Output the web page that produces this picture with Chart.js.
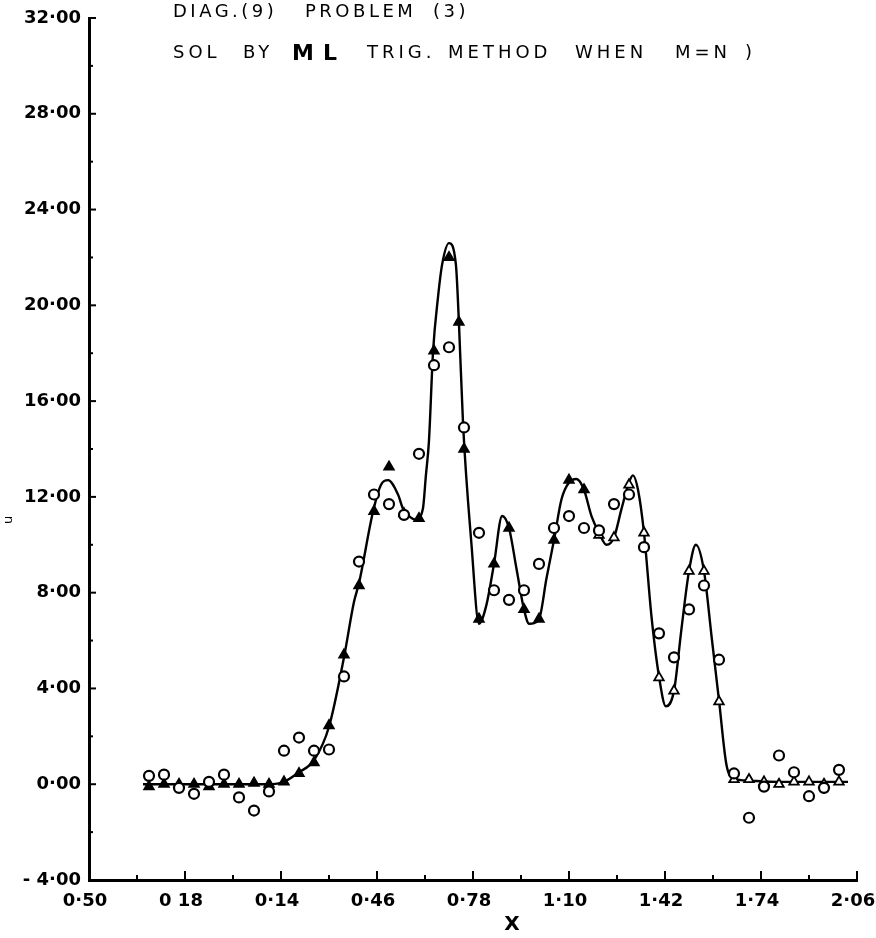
<!DOCTYPE html>
<html>
<head>
<meta charset="utf-8">
<script src="https://cdn.jsdelivr.net/npm/chart.js@4.4.0/dist/chart.umd.min.js"></script>
<style>
  body { margin: 0; background: #fff; }
  canvas { display: block; }
</style>
</head>
<body>
<canvas id="diagChart" width="876" height="938"></canvas>
<script>
const diagChart = document.getElementById('diagChart').getContext('2d');

// axis labels as printed on the plot
const xTickLabels = ['0·50', '0 18', '0·14', '0·46', '0·78', '1·10', '1·42', '1·74', '2·06'];
const yTickLabels = ['- 4·00', '0·00', '4·00', '8·00', '12·00', '16·00', '20·00', '24·00', '28·00', '32·00'];

// sample points
const xPoints = [-0.30, -0.25, -0.20, -0.15, -0.10, -0.05, 0.00, 0.05, 0.10, 0.15,
    0.20, 0.25, 0.30, 0.35, 0.40, 0.45, 0.50, 0.55, 0.60, 0.65,
    0.70, 0.75, 0.80, 0.85, 0.90, 0.95, 1.00, 1.05, 1.10, 1.15,
    1.20, 1.25, 1.30, 1.35, 1.40, 1.45, 1.50, 1.55, 1.60, 1.65,
    1.70, 1.75, 1.80, 1.85, 1.90, 1.95, 2.00];

// triangles (trig. method)
const triValues = [-0.1, 0.0, 0.0, 0.0, -0.1, 0.0, 0.0, 0.05, 0.0, 0.1,
    0.45, 0.9, 2.45, 5.4, 8.3, 11.4, 13.25, 11.3, 11.1, 18.1,
    22.0, 14.0, 6.9, 9.2, 10.7, 7.3, 6.9, 10.2, 12.7, 12.3,
    10.4, 10.3, 12.5, 10.5, 4.45, 3.9, 8.9, 8.9, 3.45, 0.2,
    0.2, 0.1, 0.0, 0.1, 0.1, 0.0, 0.1];
const triExtraX = [0.733];
const triExtraY = [19.3];

// circles
const circValues = [0.35, 0.4, -0.15, -0.4, 0.1, 0.4, -0.55, -1.1, -0.3, 1.4,
    1.95, 1.4, 1.45, 4.5, 9.3, 12.1, 11.7, 11.25, 13.8, 17.5,
    18.25, 14.9, 10.5, 8.1, 7.7, 8.1, 9.2, 10.7, 11.2, 10.7,
    10.6, 11.7, 12.1, 9.9, 6.3, 5.3, 7.3, 8.3, 5.2, 0.45,
    -1.4, -0.1, 1.2, 0.5, -0.5, -0.15, 0.6];

// solid curve
const curveX = [-0.32, -0.20, 0.00, 0.10, 0.15, 0.20, 0.25, 0.30, 0.35, 0.383,
    0.40, 0.447, 0.473, 0.497, 0.53, 0.547, 0.567, 0.59, 0.613, 0.623,
    0.633, 0.647, 0.663, 0.677, 0.70, 0.723, 0.733, 0.747, 0.775, 0.80,
    0.825, 0.85, 0.877, 0.90, 0.925, 0.95, 0.967, 1.00, 1.025, 1.05,
    1.075, 1.10, 1.125, 1.15, 1.175, 1.20, 1.225, 1.25, 1.275, 1.30,
    1.313, 1.33, 1.35, 1.375, 1.40, 1.423, 1.45, 1.475, 1.50, 1.523,
    1.55, 1.575, 1.60, 1.625, 1.65, 1.70, 1.80, 2.03];
const curveY = [0.0, 0.0, 0.0, 0.0, 0.1, 0.5, 1.0, 2.4, 5.3, 7.6,
    8.4, 11.4, 12.5, 12.7, 12.1, 11.5, 11.2, 11.05, 11.5, 12.9,
    14.3, 18.1, 20.3, 21.7, 22.6, 21.7, 19.3, 15.0, 10.0, 6.7,
    7.5, 9.2, 11.2, 10.7, 9.0, 7.3, 6.7, 6.9, 8.6, 10.2,
    11.9, 12.6, 12.75, 12.3, 11.2, 10.5, 10.0, 10.3, 11.5, 12.6,
    12.9, 12.3, 10.5, 7.0, 4.5, 3.25, 3.9, 6.5, 8.9, 10.0,
    8.9, 6.2, 3.5, 0.8, 0.25, 0.15, 0.1, 0.1];

const triData = xPoints.map((x, i) => ({ x: x, y: triValues[i] }));
triExtraX.forEach((x, i) => triData.push({ x: x, y: triExtraY[i] }));
const circData = xPoints.map((x, i) => ({ x: x, y: circValues[i] }));
const curveData = curveX.map((x, i) => ({ x: x, y: curveY[i] }));

const FONT = '"DejaVu Sans", sans-serif';

// titles, axis names and inward tick marks
const decorations = {
    id: 'decorations',
    afterDraw(chart) {
        const c = chart.ctx;
        const xs = chart.scales.x;
        const ys = chart.scales.y;
        c.save();
        c.fillStyle = '#000';
        c.strokeStyle = '#000';

        // tick marks pointing into the plot
        c.lineWidth = 2;
        const left = xs.left;
        const bottom = ys.bottom;
        for (let v = -4; v <= 32; v += 2) {
            const py = ys.getPixelForValue(v);
            const len = (v % 4 === 0) ? 7 : 4;
            c.beginPath();
            c.moveTo(left, py);
            c.lineTo(left + len, py);
            c.stroke();
        }
        for (let k = 0; k <= 16; k++) {
            const px = xs.getPixelForValue(-0.5 + k * 0.16);
            const len = (k % 2 === 0) ? 9 : 5;
            c.beginPath();
            c.moveTo(px, bottom);
            c.lineTo(px, bottom - len);
            c.stroke();
        }

        // heading
        c.textBaseline = 'middle';
        c.textAlign = 'left';
        c.font = '18px ' + FONT;
        c.letterSpacing = '3.5px';
        [['DIAG.(9)', 173], ['PROBLEM', 305], ['(3)', 433]].forEach(w => c.fillText(w[0], w[1], 12));
        c.letterSpacing = '4px';
        [['SOL', 173], ['BY', 243], ['TRIG.', 367], ['METHOD', 448], ['WHEN', 575], ['M=N', 675], [')', 745]]
            .forEach(w => c.fillText(w[0], w[1], 53));
        c.font = 'bold 22px ' + FONT;
        c.letterSpacing = '0px';
        c.fillText('M', 292, 54);
        c.fillText('L', 323, 54);

        // axis names
        c.font = 'bold 20px ' + FONT;
        c.textAlign = 'center';
        c.fillText('X', 512, 925);
        c.font = '13px ' + FONT;
        c.translate(9, 520);
        c.rotate(-Math.PI / 2);
        c.fillText('u', 0, 0);
        c.restore();
    }
};

const myChart = new Chart(diagChart, {
    type: 'scatter',
    data: {
        datasets: [{
            label: 'circles',
            data: circData,
            pointStyle: 'circle',
            pointRadius: 5,
            pointBorderWidth: 2.2,
            pointBorderColor: '#000',
            pointBackgroundColor: '#fff',
            showLine: false
        }, {
            label: 'triangles',
            data: triData,
            pointStyle: 'triangle',
            pointRadius: 5.5,
            pointBorderWidth: 1.8,
            pointBorderColor: '#000',
            pointBackgroundColor: ctx => (ctx.raw && ctx.raw.x <= 1.15) ? '#000' : '#fff',
            showLine: false
        }, {
            label: 'curve',
            data: curveData,
            showLine: true,
            borderColor: '#000',
            borderWidth: 2.4,
            pointRadius: 0,
            cubicInterpolationMode: 'monotone',
            fill: false
        }]
    },
    options: {
        responsive: false,
        animation: false,
        layout: {
            padding: { top: 18, right: 19, left: 0, bottom: 0 }
        },
        plugins: {
            legend: { display: false },
            tooltip: { enabled: false }
        },
        scales: {
            x: {
                type: 'linear',
                min: -0.5,
                max: 2.06,
                grid: { display: false, drawTicks: false },
                border: { display: true, color: '#000', width: 3 },
                ticks: {
                    stepSize: 0.32,
                    padding: 11,
                    labelOffset: -4,
                    color: '#000',
                    font: { family: FONT, size: 18, weight: 'bold' },
                    maxRotation: 0,
                    autoSkip: false,
                    callback: (v, i) => xTickLabels[i]
                },
                afterFit: scale => {
                    scale.height = 58;
                    scale.paddingLeft = 0;
                    scale.paddingRight = 0;
                }
            },
            y: {
                type: 'linear',
                min: -4,
                max: 32,
                grid: { display: false, drawTicks: false },
                border: { display: true, color: '#000', width: 3 },
                ticks: {
                    stepSize: 4,
                    padding: 8,
                    color: '#000',
                    font: { family: FONT, size: 18, weight: 'bold' },
                    autoSkip: false,
                    callback: (v, i) => yTickLabels[i]
                },
                afterFit: scale => {
                    scale.width = 89;
                    scale.paddingTop = 0;
                    scale.paddingBottom = 0;
                }
            }
        }
    },
    plugins: [decorations]
});
</script>
</body>
</html>
